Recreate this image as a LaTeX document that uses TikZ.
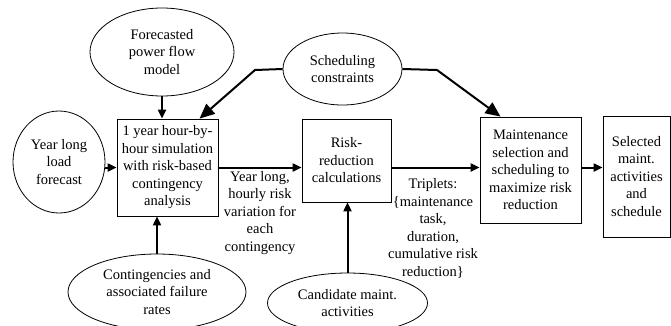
\documentclass[tikz,border=0pt]{standalone}
\usepackage{fontspec}
\setmainfont{Liberation Serif}
\usetikzlibrary{shapes.geometric,arrows.meta,calc}
\begin{document}
\begin{tikzpicture}[x=1pt,y=-1pt,
  every node/.style={font=\fontsize{14.5}{17.5}\selectfont, align=center, inner sep=0pt},
  box/.style={draw, line width=0.8pt, rectangle},
  oval/.style={draw, line width=0.8pt, ellipse},
  arr/.style={line width=2pt, -{Triangle[length=9pt,width=8pt]}},
  bigarr/.style={line width=2pt, -{Triangle[length=15pt,width=13pt]}},
  lbl/.style={}]
\useasboundingbox (0,0) rectangle (671,325);
\clip (0,0) rectangle (671,325);
% ellipses
\node[oval, minimum width=144pt, minimum height=88pt] (fc) at (162,52) {Forecasted\\power flow\\model};
\node[oval, minimum width=119pt, minimum height=72pt] (sc) at (342.5,69) {Scheduling\\constraints};
\node[oval, minimum width=92pt, minimum height=102pt] (yl) at (59,162) {Year long\\load\\forecast};
\node[oval, minimum width=178pt, minimum height=76pt] (ct) at (157,292) {Contingencies and\\associated failure\\rates};
\node[oval, minimum width=160pt, minimum height=60pt] (cd) at (347.5,303) {Candidate maint.\\activities};
% boxes
\node[box, minimum width=101pt, minimum height=97pt] (sim) at (167.5,167.5) {1 year hour-by-\\hour simulation\\with risk-based\\contingency\\analysis};
\node[box, minimum width=89pt, minimum height=83pt] (risk) at (346.5,160.5) {Risk-\\reduction\\calculations};
\node[box, minimum width=101pt, minimum height=106pt] (maint) at (530.5,170) {Maintenance\\selection and\\scheduling to\\maximize risk\\reduction};
\node[box, minimum width=67pt, minimum height=121pt] (sel) at (636.5,176.5) {Selected\\maint.\\activities\\and\\schedule};
% labels
\node[lbl] (l1) at (260,213) {Year long,\\hourly risk\\variation for\\each\\contingency};
\node[lbl] (l2) at (433,228.5) {Triplets:\\\{maintenance\\task,\\duration,\\cumulative risk\\reduction\}};
% bend points
\coordinate (b1) at (255,70);
\coordinate (b2) at (437,70);
% connectors
\draw[arr] (yl.east |- sim) -- (sim.west);
\draw[arr] (sim.east) -- (sim.east -| risk.west);
\draw[arr] (sim.east -| risk.east) -- (sim.east -| maint.west);
\draw[arr] (sim.east -| maint.east) -- (sim.east -| sel.west);
\draw[arr] (fc.south) -- (fc.south |- sim.north);
\draw[arr] (ct.north) -- (ct.north |- sim.south);
\draw[arr] (cd.north) -- (cd.north |- risk.south);
\draw[bigarr] (sc.west) -- (b1) -- ($(sim.north)+(32,0)$);
\draw[bigarr] (sc.east) -- (b2) -- ($(maint.north)+(-30,0)$);
\end{tikzpicture}
\end{document}
